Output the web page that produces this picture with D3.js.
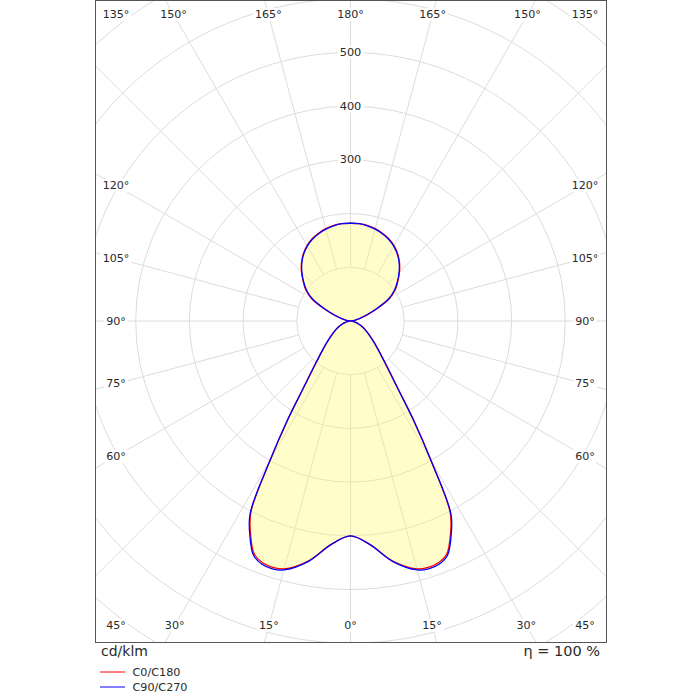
<!DOCTYPE html>
<html>
<head>
<meta charset="utf-8">
<script src="https://cdn.jsdelivr.net/npm/d3@7"></script>
<style>
  body { margin: 0; background: #fff; }
  text { font-family: "DejaVu Sans", Verdana, sans-serif; fill: #2a2a2a; }
</style>
</head>
<body>
<div id="chart"></div>
<script>
// gamma angles (0 = straight down, 180 = straight up), degrees
const angles = [0, 5, 10, 15, 17.5, 20, 22.5, 25, 27.5, 30, 32.5, 35, 40, 45, 50, 55, 60, 65, 70, 75, 80, 85,
                90, 95, 100, 105, 110, 115, 120, 125, 130, 135, 140, 145, 150, 155, 160, 165, 170, 175, 180];
// luminous intensity, cd/klm
const c0c180 = [400, 418, 454, 478, 481, 479, 469, 440, 402, 298, 216, 154, 97, 70, 52, 40, 31, 23, 16, 10, 6, 3,
                0, 3, 9, 18, 32, 55, 84, 102, 115, 129, 142, 153, 162, 169, 174, 178, 181, 182, 182];
const c90c270 = [400, 418, 455, 480, 484, 482, 472, 443, 405, 300, 218, 155, 98, 70, 52, 40, 31, 23, 16, 10, 6, 3,
                 0, 3, 8, 17, 30, 52, 81, 100, 114, 128, 141, 152, 161, 168, 173, 177, 180, 182, 182];
const ringValues = [100, 200, 300, 400, 500, 600, 700, 800];
const ringLabels = [300, 400, 500];
const angleTicks = [0, 15, 30, 45, 60, 75, 90, 105, 120, 135, 150, 165, 180];
const seriesNames = ['C0/C180', 'C90/C270'];
const seriesColors = ['#ff0000', '#0000ff'];

const width = 700;
const height = 700;
const frame = {'left': 95.5, 'top': 0.5, 'right': 606.5, 'bottom': 642.5};
const cx = 350.5;
const cy = 321;

const svg = d3.select('#chart')
  .append('svg')
  .attr('width', width)
  .attr('height', height);

const r = d3.scaleLinear().domain([0, 100]).range([0, 53.7]);

svg.append('clipPath')
  .attr('id', 'frame-clip')
  .append('rect')
  .attr('x', frame.left)
  .attr('y', frame.top)
  .attr('width', frame.right - frame.left)
  .attr('height', frame.bottom - frame.top);

const plot = svg.append('g').attr('clip-path', 'url(#frame-clip)');
const grid = plot.append('g').attr('transform', 'translate(' + cx + ',' + cy + ')');

// rings
grid.selectAll('circle')
  .data(ringValues)
  .join('circle')
  .attr('r', d => r(d))
  .attr('fill', 'none')
  .attr('stroke', '#dcdcdc')
  .attr('stroke-width', 1);

// spokes every 15 degrees
const spokes = d3.range(0, 360, 15);
grid.selectAll('line')
  .data(spokes)
  .join('line')
  .attr('x1', d => r(100) * Math.sin(d * Math.PI / 180))
  .attr('y1', d => r(100) * Math.cos(d * Math.PI / 180))
  .attr('x2', d => r(900) * Math.sin(d * Math.PI / 180))
  .attr('y2', d => r(900) * Math.cos(d * Math.PI / 180))
  .attr('stroke', '#dcdcdc')
  .attr('stroke-width', 1);

// build closed polar outline: right half 0..180, left half back down
const toPoints = (vals) => {
  const pts = [];
  angles.forEach((a, i) => pts.push([Math.PI - a * Math.PI / 180, r(vals[i])]));
  for (let i = angles.length - 2; i > 0; i--) {
    pts.push([Math.PI + angles[i] * Math.PI / 180, r(vals[i])]);
  }
  return pts;
};

const radial = d3.lineRadial()
  .angle(d => d[0])
  .radius(d => d[1])
  .curve(d3.curveCatmullRomClosed.alpha(0.5));

const curves = plot.append('g').attr('transform', 'translate(' + cx + ',' + cy + ')');

curves.append('path')
  .attr('d', radial(toPoints(c90c270)))
  .attr('fill', 'rgba(255, 250, 100, 0.35)')
  .attr('stroke', 'none');

[c0c180, c90c270].forEach((vals, i) => {
  curves.append('path')
    .attr('d', radial(toPoints(vals)))
    .attr('fill', 'none')
    .attr('stroke', seriesColors[i])
    .attr('stroke-width', 1.3);
});

// label with white box behind
const boxedLabel = (g, x, y, str, size) => {
  const t = g.append('text')
    .attr('x', x)
    .attr('y', y)
    .attr('text-anchor', 'middle')
    .attr('dominant-baseline', 'central')
    .style('font-size', size + 'px')
    .text(str);
  const b = t.node().getBBox();
  g.insert('rect', 'text')
    .attr('x', b.x - 2)
    .attr('y', b.y)
    .attr('width', b.width + 4)
    .attr('height', b.height)
    .attr('fill', '#fff');
};

const labels = svg.append('g');

ringLabels.forEach(v => {
  const g = labels.append('g');
  boxedLabel(g, cx, cy - r(v), String(v), 11.3);
});

// angle labels along an inner rectangle
const inner = {'left': 116, 'right': 2 * cx - 116, 'top': 14.5, 'bottom': 625.5};
const labelPos = (deg, side) => {
  const dx = side * Math.sin(deg * Math.PI / 180);
  const dy = Math.cos(deg * Math.PI / 180);
  if (deg % 90 === 45) {
    return [dx > 0 ? inner.right : inner.left, dy > 0 ? inner.bottom : inner.top];
  }
  let tx = Infinity, ty = Infinity;
  if (Math.abs(dx) > 1e-9) tx = dx > 0 ? (inner.right - cx) / dx : (inner.left - cx) / dx;
  if (Math.abs(dy) > 1e-9) ty = dy > 0 ? (inner.bottom - cy) / dy : (inner.top - cy) / dy;
  const t = Math.min(tx, ty);
  return [cx + t * dx, cy + t * dy];
};

angleTicks.forEach(deg => {
  const sides = (deg === 0 || deg === 180) ? [1] : [-1, 1];
  sides.forEach(s => {
    const p = labelPos(deg, s);
    const g = labels.append('g');
    boxedLabel(g, p[0], p[1], deg + '°', 11.1);
  });
});

// frame
svg.append('rect')
  .attr('x', frame.left)
  .attr('y', frame.top)
  .attr('width', frame.right - frame.left)
  .attr('height', frame.bottom - frame.top)
  .attr('fill', 'none')
  .attr('stroke', '#555')
  .attr('stroke-width', 1);

// unit and efficiency
svg.append('text')
  .attr('x', 101)
  .attr('y', 651)
  .attr('dominant-baseline', 'central')
  .style('font-size', '14px')
  .text('cd/klm');

svg.append('text')
  .attr('x', 600)
  .attr('y', 651)
  .attr('text-anchor', 'end')
  .attr('dominant-baseline', 'central')
  .style('font-size', '14.5px')
  .text('η = 100 %');

// legend
const legend = svg.append('g');
seriesNames.forEach((name, i) => {
  const y = 672 + i * 15;
  legend.append('line')
    .attr('x1', 100)
    .attr('x2', 125)
    .attr('y1', y)
    .attr('y2', y)
    .attr('stroke', seriesColors[i])
    .attr('stroke-width', 1);
  legend.append('text')
    .attr('x', 132.5)
    .attr('y', y)
    .attr('dominant-baseline', 'central')
    .style('font-size', '11.2px')
    .text(name);
});
</script>
</body>
</html>
